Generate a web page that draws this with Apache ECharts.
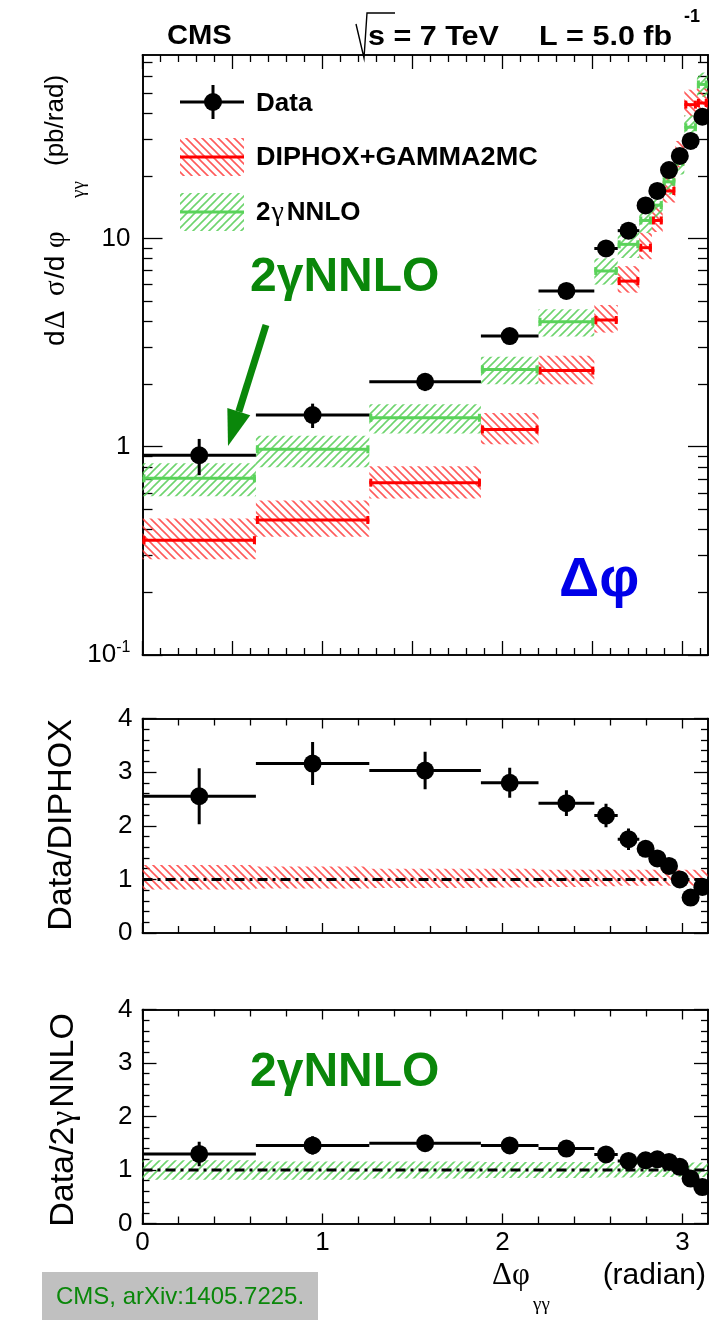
<!DOCTYPE html>
<html>
<head>
<meta charset="utf-8">
<script src="https://cdn.jsdelivr.net/npm/echarts@6/dist/echarts.min.js"></script>
<style>
html, body { margin: 0; padding: 0; background: #fff; }
#main { width: 709px; height: 1324px; }
</style>
</head>
<body>
<div id="main"></div>
<script>
// Δφ(γγ) binning (radian)
const binEdges = [0, 0.63, 1.26, 1.88, 2.2, 2.51, 2.64, 2.76, 2.83, 2.89, 2.96, 3.01, 3.08, 3.14];

// Measured dσ/dΔφ (pb/rad) with total uncertainty
const dataXsec = [0.91, 1.42, 2.05, 3.40, 5.6, 8.95, 10.9, 14.4, 16.9, 21.3, 24.9, 29.4, 38.4];
const dataErr  = [0.18, 0.19, 0.20, 0.30, 0.45, 0.7, 0.9, 1.1, 1.3, 1.6, 1.9, 2.2, 2.9];

// DIPHOX+GAMMA2MC prediction and relative scale uncertainty
const diphoxXsec = [0.356, 0.445, 0.672, 1.21, 2.32, 4.06, 6.24, 9.03, 12.2, 16.9, 24.9, 43.9, 44.7];
const diphoxUp   = [0.27, 0.24, 0.20, 0.20, 0.18, 0.18, 0.18, 0.18, 0.18, 0.18, 0.18, 0.18, 0.18];
const diphoxDn   = [0.19, 0.17, 0.16, 0.15, 0.14, 0.13, 0.12, 0.12, 0.12, 0.12, 0.12, 0.12, 0.12];

// 2γNNLO prediction and relative scale uncertainty
const nnloXsec = [0.705, 0.972, 1.377, 2.35, 3.98, 6.98, 9.37, 12.2, 14.45, 18.7, 23.3, 34.2, 54.9];
const nnloUp   = [0.18, 0.16, 0.16, 0.15, 0.15, 0.15, 0.14, 0.14, 0.14, 0.14, 0.14, 0.14, 0.14];
const nnloDn   = [0.18, 0.18, 0.16, 0.15, 0.15, 0.14, 0.14, 0.13, 0.13, 0.13, 0.13, 0.13, 0.13];

// Data / prediction ratios
const ratioDiphox    = [2.55, 3.16, 3.03, 2.80, 2.42, 2.19, 1.75, 1.57, 1.39, 1.25, 1.00, 0.66, 0.86];
const ratioDiphoxErr = [0.52, 0.40, 0.35, 0.28, 0.24, 0.22, 0.20, 0.15, 0.12, 0.10, 0.08, 0.06, 0.08];
const ratioNnlo      = [1.30, 1.46, 1.50, 1.46, 1.40, 1.29, 1.17, 1.18, 1.20, 1.15, 1.06, 0.84, 0.68];
const ratioNnloErr   = [0.23, 0.17, 0.15, 0.13, 0.11, 0.10, 0.09, 0.08, 0.08, 0.07, 0.07, 0.06, 0.06];

// Tick values
const xMajorTop   = [0, 0.5, 1, 1.5, 2, 2.5, 3];
const xMinorTop   = [0.1, 0.2, 0.3, 0.4, 0.6, 0.7, 0.8, 0.9, 1.1, 1.2, 1.3, 1.4, 1.6, 1.7, 1.8, 1.9,
                     2.1, 2.2, 2.3, 2.4, 2.6, 2.7, 2.8, 2.9, 3.1];
const xMajorRatio = [0, 1, 2, 3];
const xMinorRatio = [0.2, 0.4, 0.6, 0.8, 1.2, 1.4, 1.6, 1.8, 2.2, 2.4, 2.6, 2.8];
const xTickLabels = ['0', '1', '2', '3'];
const yLogMajor   = [0.1, 1, 10];
const yLogLabels  = ['{n|10}{s|-1}', '{n|1}', '{n|10}'];
const yLogMinor   = [0.2, 0.3, 0.4, 0.5, 0.6, 0.7, 0.8, 0.9, 2, 3, 4, 5, 6, 7, 8, 9, 20, 30, 40, 50, 60, 70];
const yRatioMajor = [0, 1, 2, 3, 4];
const yRatioMinor = [0.2, 0.4, 0.6, 0.8, 1.2, 1.4, 1.6, 1.8, 2.2, 2.4, 2.6, 2.8, 3.2, 3.4, 3.6, 3.8];

const X_MAX = Math.PI;
const Y_LOG_MIN = 0.1, Y_LOG_MAX = 76;
const SANS = '"Liberation Sans", Arial, Helvetica, sans-serif';
const SERIF = '"Liberation Serif", "DejaVu Serif", serif';
const RED = '#ff0000', GREEN = '#5ad35a', LABEL_GREEN = '#0a870a';

// Diagonal hatch fill built on a small tile
function hatch(color, forward) {
  const s = 8, c = document.createElement('canvas');
  c.width = s; c.height = s;
  const g = c.getContext('2d');
  g.strokeStyle = color; g.lineWidth = 1.6;
  g.beginPath();
  if (forward) {
    g.moveTo(-1, s + 1); g.lineTo(s + 1, -1);
    g.moveTo(-1, 1); g.lineTo(1, -1);
    g.moveTo(s - 1, s + 1); g.lineTo(s + 1, s - 1);
  } else {
    g.moveTo(-1, -1); g.lineTo(s + 1, s + 1);
    g.moveTo(s - 1, -1); g.lineTo(s + 1, 1);
    g.moveTo(-1, s - 1); g.lineTo(1, s + 1);
  }
  g.stroke();
  return { image: c, repeat: 'repeat' };
}
const redHatch = hatch('rgba(255,50,50,0.8)', false);
const greenHatch = hatch('rgba(85,205,85,0.85)', true);

const centers = binEdges.slice(0, -1).map((e, i) => (e + binEdges[i + 1]) / 2);
const bins = centers.map((c, i) => [binEdges[i], binEdges[i + 1]]);

// rows: [x0, x1, lo, hi]
const bandRows = (vals, up, dn) => bins.map((b, i) => [b[0], b[1], vals[i] * (1 - dn[i]), vals[i] * (1 + up[i])]);
// rows: [x0, x1, y]
const levelRows = (vals) => bins.map((b, i) => [b[0], b[1], vals[i]]);
// rows: [x0, x1, y, err]
const barRows = (vals, errs) => bins.map((b, i) => [b[0], b[1], vals[i], errs[i]]);
const pointRows = (vals) => centers.map((c, i) => [c, vals[i]]);

function renderBand(pattern) {
  return function (params, api) {
    const p0 = api.coord([api.value(0), api.value(3)]);
    const p1 = api.coord([api.value(1), api.value(2)]);
    return {
      type: 'rect',
      shape: { x: p0[0], y: p0[1], width: p1[0] - p0[0], height: p1[1] - p0[1] },
      style: { fill: pattern }
    };
  };
}

function renderLevel(color) {
  return function (params, api) {
    const a = api.coord([api.value(0), api.value(2)]);
    const b = api.coord([api.value(1), api.value(2)]);
    return {
      type: 'group',
      children: [
        { type: 'line', shape: { x1: a[0], y1: a[1], x2: b[0], y2: b[1] }, style: { stroke: color, lineWidth: 3 } },
        { type: 'rect', shape: { x: a[0], y: a[1] - 4, width: 3, height: 8 }, style: { fill: color } },
        { type: 'rect', shape: { x: b[0] - 3, y: b[1] - 4, width: 3, height: 8 }, style: { fill: color } }
      ]
    };
  };
}

function renderDataBar(params, api) {
  const x0 = api.value(0), x1 = api.value(1), y = api.value(2), e = api.value(3);
  const xc = (x0 + x1) / 2;
  const a = api.coord([x0, y]);
  const b = api.coord([x1, y]);
  const lo = api.coord([xc, y - e]);
  const hi = api.coord([xc, y + e]);
  return {
    type: 'group',
    children: [
      { type: 'line', shape: { x1: a[0], y1: a[1], x2: b[0], y2: b[1] }, style: { stroke: '#000', lineWidth: 3 } },
      { type: 'line', shape: { x1: lo[0], y1: lo[1], x2: hi[0], y2: hi[1] }, style: { stroke: '#000', lineWidth: 3 } }
    ]
  };
}

// ---- axes: frame with mirrored ticks on every side ----
const axisLineStyle = { color: '#000', width: 1.6 };
const tickLine = { color: '#000', width: 1.3 };

function xAxesFor(grid, major, minor, majorLen, minorLen, withLabels) {
  const base = {
    type: 'value', gridIndex: grid, min: 0, max: X_MAX,
    axisLine: { show: true, onZero: false, lineStyle: axisLineStyle },
    splitLine: { show: false }, minorTick: { show: false }
  };
  const lbl = withLabels ? {
    show: true, customValues: xMajorRatio, margin: 6,
    formatter: (v) => xTickLabels[xMajorRatio.indexOf(Math.round(v))],
    fontSize: 26, fontFamily: SANS, color: '#000'
  } : { show: false };
  return [
    Object.assign({}, base, { position: 'bottom', axisTick: { show: true, inside: true, length: majorLen, customValues: major, lineStyle: tickLine }, axisLabel: lbl }),
    Object.assign({}, base, { position: 'top', axisTick: { show: true, inside: true, length: majorLen, customValues: major, lineStyle: tickLine }, axisLabel: { show: false } }),
    Object.assign({}, base, { position: 'bottom', axisTick: { show: true, inside: true, length: minorLen, customValues: minor, lineStyle: tickLine }, axisLabel: { show: false } }),
    Object.assign({}, base, { position: 'top', axisTick: { show: true, inside: true, length: minorLen, customValues: minor, lineStyle: tickLine }, axisLabel: { show: false } })
  ];
}

function yAxesFor(grid, type, min, max, major, minor, majorLen, minorLen, label) {
  const base = {
    type: type, gridIndex: grid, min: min, max: max,
    axisLine: { show: true, onZero: false, lineStyle: axisLineStyle },
    splitLine: { show: false }, minorTick: { show: false }
  };
  if (type === 'value') base.interval = 1;
  return [
    Object.assign({}, base, { position: 'left', axisTick: { show: true, inside: true, length: majorLen, customValues: major, lineStyle: tickLine }, axisLabel: label }),
    Object.assign({}, base, { position: 'right', axisTick: { show: true, inside: true, length: majorLen, customValues: major, lineStyle: tickLine }, axisLabel: { show: false } }),
    Object.assign({}, base, { position: 'left', axisTick: { show: true, inside: true, length: minorLen, customValues: minor, lineStyle: tickLine }, axisLabel: { show: false } }),
    Object.assign({}, base, { position: 'right', axisTick: { show: true, inside: true, length: minorLen, customValues: minor, lineStyle: tickLine }, axisLabel: { show: false } })
  ];
}

const logLabel = {
  show: true, customValues: yLogMajor, margin: 12,
  formatter: (v) => {
    let k = 0;
    yLogMajor.forEach((m, i) => { if (Math.abs(Math.log10(v) - Math.log10(m)) < 1e-6) k = i; });
    return yLogLabels[k];
  },
  rich: {
    n: { fontSize: 26, fontFamily: SANS, color: '#000', lineHeight: 30 },
    s: { fontSize: 16, fontFamily: SANS, color: '#000', verticalAlign: 'top', lineHeight: 16 }
  }
};
const ratioLabel = {
  show: true, customValues: yRatioMajor, margin: 10,
  formatter: (v) => String(Math.round(v)),
  fontSize: 26, fontFamily: SANS, color: '#000'
};

const xAxis = [].concat(
  xAxesFor(0, xMajorTop, xMinorTop, 14, 7, false),
  xAxesFor(1, xMajorRatio, xMinorRatio, 10, 7, false),
  xAxesFor(2, xMajorRatio, xMinorRatio, 10, 7, true)
);
const yAxis = [].concat(
  yAxesFor(0, 'log', Y_LOG_MIN, Y_LOG_MAX, yLogMajor, yLogMinor, 20, 10, logLabel),
  yAxesFor(1, 'value', 0, 4, yRatioMajor, yRatioMinor, 14, 7, ratioLabel),
  yAxesFor(2, 'value', 0, 4, yRatioMajor, yRatioMinor, 14, 7, ratioLabel)
);

const grid = [
  { left: 142.5, width: 565.5, top: 55, height: 600, outerBoundsMode: 'none' },
  { left: 142.5, width: 565.5, top: 718.5, height: 214.5, outerBoundsMode: 'none' },
  { left: 142.5, width: 565.5, top: 1009.5, height: 214, outerBoundsMode: 'none' }
];

const ax = (g) => ({ xAxisIndex: g * 4, yAxisIndex: g * 4 });
const ones = bins.map(() => 1);
const marker = { symbol: 'circle', symbolSize: 18, itemStyle: { color: '#000', opacity: 1 }, z: 6, silent: true };

const series = [
  // top panel
  Object.assign({ type: 'custom', name: 'DIPHOX band', renderItem: renderBand(redHatch), data: bandRows(diphoxXsec, diphoxUp, diphoxDn), z: 1, clip: true, silent: true }, ax(0)),
  Object.assign({ type: 'custom', name: 'NNLO band', renderItem: renderBand(greenHatch), data: bandRows(nnloXsec, nnloUp, nnloDn), z: 2, clip: true, silent: true }, ax(0)),
  Object.assign({ type: 'custom', name: 'DIPHOX+GAMMA2MC', renderItem: renderLevel(RED), data: levelRows(diphoxXsec), z: 3, clip: true, silent: true }, ax(0)),
  Object.assign({ type: 'custom', name: '2γNNLO', renderItem: renderLevel(GREEN), data: levelRows(nnloXsec), z: 4, clip: true, silent: true }, ax(0)),
  Object.assign({ type: 'custom', name: 'Data bars', renderItem: renderDataBar, data: barRows(dataXsec, dataErr), z: 5, clip: true, silent: true }, ax(0)),
  Object.assign({ type: 'scatter', name: 'Data', data: pointRows(dataXsec) }, marker, ax(0)),

  // Data / DIPHOX
  Object.assign({ type: 'custom', renderItem: renderBand(redHatch), data: bandRows(ones, diphoxUp, diphoxDn), z: 1, clip: true, silent: true }, ax(1)),
  Object.assign({ type: 'line', data: [[0, 1], [X_MAX, 1]], symbol: 'none', lineStyle: { color: '#000', width: 3, type: [10, 5, 3, 5] }, z: 3, silent: true }, ax(1)),
  Object.assign({ type: 'custom', renderItem: renderDataBar, data: barRows(ratioDiphox, ratioDiphoxErr), z: 5, clip: true, silent: true }, ax(1)),
  Object.assign({ type: 'scatter', data: pointRows(ratioDiphox) }, marker, ax(1)),

  // Data / 2γNNLO
  Object.assign({ type: 'custom', renderItem: renderBand(greenHatch), data: bandRows(ones, nnloUp, nnloDn), z: 1, clip: true, silent: true }, ax(2)),
  Object.assign({ type: 'line', data: [[0, 1], [X_MAX, 1]], symbol: 'none', lineStyle: { color: '#000', width: 3, type: [10, 5, 3, 5] }, z: 3, silent: true }, ax(2)),
  Object.assign({ type: 'custom', renderItem: renderDataBar, data: barRows(ratioNnlo, ratioNnloErr), z: 5, clip: true, silent: true }, ax(2)),
  Object.assign({ type: 'scatter', data: pointRows(ratioNnlo) }, marker, ax(2))
];

// ---- annotations, legend and titles ----
const txt = (x, y, text, font, fill, extra, props) => Object.assign({
  type: 'text', x: x, y: y, z: 100,
  style: Object.assign({ text: text, font: font, fill: fill || '#000', textVerticalAlign: 'middle' }, extra || {})
}, props || {});

// arrow pointing at the 2γNNLO level of the first bin
const tip = [228, 446], tail = [266, 325];
const dx = tip[0] - tail[0], dy = tip[1] - tail[1], L = Math.hypot(dx, dy);
const ux = dx / L, uy = dy / L, headLen = 36, headHalf = 12;
const base = [tip[0] - ux * headLen, tip[1] - uy * headLen];

const wide = { scaleX: 1.09 };
const graphicEls = [
  // header
  txt(167, 37, 'CMS', 'bold 27px ' + SANS, '#000', null, { scaleX: 1.08 }),
  { type: 'polyline', z: 100, shape: { points: [[356, 24], [364, 58], [367, 13], [395, 13]] }, style: { stroke: '#000', lineWidth: 1.4, fill: null } },
  txt(368, 37, 's = 7 TeV', 'bold 28px ' + SANS, '#000', null, wide),
  txt(539, 37, 'L = 5.0 fb', 'bold 28px ' + SANS, '#000', null, wide),
  txt(684, 17, '-1', 'bold 18px ' + SANS),

  // legend
  { type: 'line', z: 100, shape: { x1: 180, y1: 102, x2: 244, y2: 102 }, style: { stroke: '#000', lineWidth: 3 } },
  { type: 'line', z: 100, shape: { x1: 213, y1: 85, x2: 213, y2: 119 }, style: { stroke: '#000', lineWidth: 3 } },
  { type: 'circle', z: 100, shape: { cx: 213, cy: 102, r: 9 }, style: { fill: '#000' } },
  txt(256, 104, 'Data', 'bold 26px ' + SANS),
  { type: 'rect', z: 100, shape: { x: 180, y: 138, width: 64, height: 38 }, style: { fill: redHatch } },
  { type: 'line', z: 100, shape: { x1: 180, y1: 157, x2: 244, y2: 157 }, style: { stroke: RED, lineWidth: 3 } },
  txt(256, 158, 'DIPHOX+GAMMA2MC', 'bold 26px ' + SANS, '#000', null, { scaleX: 1.04 }),
  { type: 'rect', z: 100, shape: { x: 180, y: 193, width: 64, height: 38 }, style: { fill: greenHatch } },
  { type: 'line', z: 100, shape: { x1: 180, y1: 212, x2: 244, y2: 212 }, style: { stroke: GREEN, lineWidth: 3 } },
  {
    type: 'text', x: 256, y: 213, z: 100,
    style: {
      text: '{b|2}{g|γ}{b|NNLO}', textVerticalAlign: 'middle',
      rich: { b: { font: 'bold 26px ' + SANS, fill: '#000' }, g: { font: '28px ' + SERIF, fill: '#000', padding: [0, 3, 0, 1] } }
    }
  },

  // green annotation with arrow
  txt(250, 278, '2γNNLO', 'bold 48px ' + SANS, LABEL_GREEN),
  { type: 'line', z: 100, shape: { x1: tail[0], y1: tail[1], x2: base[0], y2: base[1] }, style: { stroke: LABEL_GREEN, lineWidth: 7 } },
  {
    type: 'polygon', z: 100,
    shape: { points: [tip, [base[0] + uy * headHalf, base[1] - ux * headHalf], [base[0] - uy * headHalf, base[1] + ux * headHalf]] },
    style: { fill: LABEL_GREEN }
  },
  txt(559, 581, 'Δφ', 'bold 56px ' + SANS, '#0000e8'),
  txt(250, 1073, '2γNNLO', 'bold 48px ' + SANS, LABEL_GREEN),

  // y-axis titles (rotated)
  {
    type: 'group', x: 56, y: 346, rotation: Math.PI / 2, z: 100,
    children: [
      { type: 'text', x: 0, y: 0, style: { text: 'd', font: '28px ' + SANS, fill: '#000', textVerticalAlign: 'middle' } },
      { type: 'text', x: 17, y: 0, style: { text: 'Δ', font: '29px ' + SERIF, fill: '#000', textVerticalAlign: 'middle' } },
      { type: 'text', x: 50, y: 0, style: { text: 'σ', font: '29px ' + SERIF, fill: '#000', textVerticalAlign: 'middle' } },
      { type: 'text', x: 67, y: 0, style: { text: '/d', font: '28px ' + SANS, fill: '#000', textVerticalAlign: 'middle' } },
      { type: 'text', x: 98, y: 0, style: { text: 'φ', font: '29px ' + SERIF, fill: '#000', textVerticalAlign: 'middle' } },
      { type: 'text', x: 148, y: 23, style: { text: 'γγ', font: '19px ' + SERIF, fill: '#000', textVerticalAlign: 'middle' } },
      { type: 'text', x: 180, y: 0, style: { text: '(pb/rad)', font: '26px ' + SANS, fill: '#000', textVerticalAlign: 'middle' } }
    ]
  },
  {
    type: 'text', x: 62, y: 825, rotation: Math.PI / 2, z: 100,
    style: { text: 'Data/DIPHOX', font: '34px ' + SANS, fill: '#000', textAlign: 'center', textVerticalAlign: 'middle' }
  },
  {
    type: 'text', x: 64, y: 1120, rotation: Math.PI / 2, z: 100,
    style: {
      text: '{a|Data/2}{g|γ}{a|NNLO}', textAlign: 'center', textVerticalAlign: 'middle',
      rich: { a: { font: '34px ' + SANS, fill: '#000' }, g: { font: '34px ' + SERIF, fill: '#000', padding: [0, 3, 0, 1] } }
    }
  },

  // x-axis title
  txt(492, 1276, 'Δφ', '31px ' + SERIF),
  txt(533, 1305, 'γγ', '19px ' + SERIF),
  txt(706, 1276, '(radian)', '30px ' + SANS, '#000', { textAlign: 'right' }),

  // reference box
  { type: 'rect', z: 100, shape: { x: 42, y: 1272, width: 276, height: 48 }, style: { fill: '#c0c0c0' } },
  txt(56, 1297, 'CMS, arXiv:1405.7225.', '24px ' + SANS, '#0a870a')
];

const chart = echarts.init(document.getElementById('main'), null, { renderer: 'canvas' });
chart.setOption({
  animation: false,
  backgroundColor: '#ffffff',
  grid: grid,
  xAxis: xAxis,
  yAxis: yAxis,
  series: series,
  graphic: { elements: graphicEls }
});
</script>
</body>
</html>
